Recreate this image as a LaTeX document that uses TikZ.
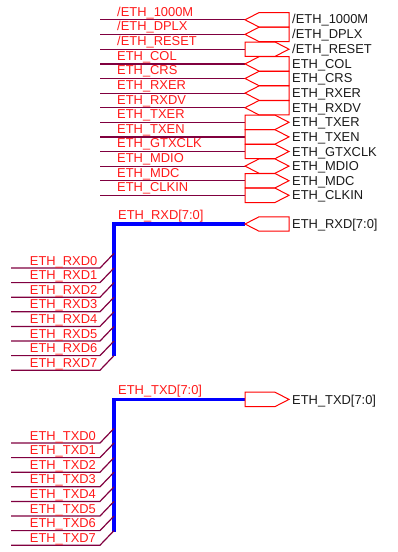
\documentclass[tikz,border=0pt]{standalone}
\usepackage{fontspec}
\setmainfont{Liberation Sans}
\definecolor{wirecol}{HTML}{80003F}
\definecolor{redtxt}{HTML}{FF1A1A}
\definecolor{blktxt}{HTML}{1A1A1A}
\tikzset{
  wire/.style={draw=wirecol,line width=1.2pt},
  busline/.style={draw=blue,line width=3.8pt,line cap=butt,line join=miter},
  portshape/.style={draw=red,line width=1pt,line join=miter},
  netlabel/.style={anchor=base west,inner sep=0pt,text=redtxt,font=\fontsize{12.9}{14}\selectfont},
  portlabel/.style={anchor=base west,inner sep=0pt,text=blktxt,font=\fontsize{12.9}{14}\selectfont},
}
% #1 id, #2 y, #3 kind (L left-pointing, R right-pointing, B both), #4 name
\newcommand{\portrow}[4]{%
  \coordinate (a#1) at (100,#2);
  \coordinate (p#1) at (245,#2);
  \draw[wire] (a#1) -- (p#1);
  \ifx L#3\draw[portshape] (p#1) -- ++(14,-7.2) -- (289,#2-7.2) -- (289,#2+7.2) -- (259,#2+7.2) -- cycle;\fi
  \ifx R#3\draw[portshape] (245,#2-7.2) -- (275,#2-7.2) -- (289,#2) -- (275,#2+7.2) -- (245,#2+7.2) -- cycle;\fi
  \ifx B#3\draw[portshape] (p#1) -- (259,#2-7.2) -- (275,#2-7.2) -- (289,#2) -- (275,#2+7.2) -- (259,#2+7.2) -- cycle;\fi
  \node[netlabel] (n#1) at (117,#2-3.7) {#4};
  \node[portlabel] (t#1) at (292,#2+3.9+0.004*#2) {#4};
}
% #1 id, #2 y, #3 name
\newcommand{\busrow}[3]{%
  \coordinate (s#1) at (11,#2);
  \coordinate (k#1) at (100,#2);
  \coordinate (e#1) at (114,#2-14.6);
  \draw[wire] (s#1) -- (k#1) -- (e#1);
  \node[netlabel] (n#1) at (29.7,#2-3.0) {#3};
}
\begin{document}
\begin{tikzpicture}[x=1pt,y=-1pt]
\useasboundingbox (0,0) rectangle (398,552);
\portrow{a}{19.8}{L}{/ETH\_1000M}
\portrow{b}{34.4}{L}{/ETH\_DPLX}
\portrow{c}{49.2}{R}{/ETH\_RESET}
\portrow{d}{63.9}{L}{ETH\_COL}
\portrow{e}{78.5}{L}{ETH\_CRS}
\portrow{f}{93.1}{L}{ETH\_RXER}
\portrow{g}{107.7}{L}{ETH\_RXDV}
\portrow{h}{122.3}{R}{ETH\_TXER}
\portrow{i}{136.9}{R}{ETH\_TXEN}
\portrow{j}{151.5}{R}{ETH\_GTXCLK}
\portrow{k}{166.1}{B}{ETH\_MDIO}
\portrow{l}{180.7}{R}{ETH\_MDC}
\portrow{m}{195.3}{R}{ETH\_CLKIN}
% RXD bus
\coordinate (rxa) at (114,356);
\coordinate (rxb) at (114,224);
\coordinate (rxc) at (245,224);
\draw[busline] (rxa) -- (rxb) -- (rxc);
\draw[portshape] (rxc) -- (259,216.8) -- (289,216.8) -- (289,231.2) -- (259,231.2) -- cycle;
\node[netlabel] (rxn) at (118,219.4) {ETH\_RXD[7:0]};
\node[portlabel] (rxt) at (292,228.8) {ETH\_RXD[7:0]};
\busrow{r0}{268.0}{ETH\_RXD0}
\busrow{r1}{282.6}{ETH\_RXD1}
\busrow{r2}{297.2}{ETH\_RXD2}
\busrow{r3}{311.8}{ETH\_RXD3}
\busrow{r4}{326.4}{ETH\_RXD4}
\busrow{r5}{341.0}{ETH\_RXD5}
\busrow{r6}{355.6}{ETH\_RXD6}
\busrow{r7}{370.2}{ETH\_RXD7}
% TXD bus
\coordinate (txa) at (114,532);
\coordinate (txb) at (114,399.4);
\coordinate (txc) at (245,399.4);
\draw[busline] (txa) -- (txb) -- (txc);
\draw[portshape] (245,392.2) -- (275,392.2) -- (289,399.4) -- (275,406.6) -- (245,406.6) -- cycle;
\node[netlabel] (txn) at (118,394.6) {ETH\_TXD[7:0]};
\node[portlabel] (txt) at (292,404) {ETH\_TXD[7:0]};
\busrow{x0}{443.0}{ETH\_TXD0}
\busrow{x1}{457.6}{ETH\_TXD1}
\busrow{x2}{472.2}{ETH\_TXD2}
\busrow{x3}{486.8}{ETH\_TXD3}
\busrow{x4}{501.4}{ETH\_TXD4}
\busrow{x5}{516.0}{ETH\_TXD5}
\busrow{x6}{530.6}{ETH\_TXD6}
\busrow{x7}{545.2}{ETH\_TXD7}
\end{tikzpicture}
\end{document}
